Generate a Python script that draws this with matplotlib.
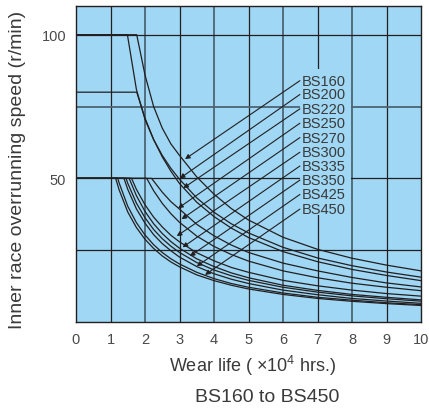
import matplotlib
matplotlib.use("Agg")
from matplotlib import pyplot
from matplotlib.patches import Rectangle

pyplot.rcParams["font.family"] = ["Liberation Sans", "DejaVu Sans"]
pyplot.rcParams["mathtext.fontset"] = "custom"
pyplot.rcParams["mathtext.rm"] = "Liberation Sans"

# wear life (x10^4 hrs) / speed (r/min)
curve_x = [
    [0, 1.76, 2.0, 2.25, 2.5, 2.75, 3, 3.5, 4, 4.5, 5, 6, 7, 8, 9, 10],
    [0, 1.49, 1.75, 2.0, 2.25, 2.5, 2.75, 3, 3.5, 4, 4.5, 5, 6, 7, 8, 9, 10],
    [0, 1.76, 2.0, 2.25, 2.5, 2.75, 3, 3.5, 4, 4.5, 5, 6, 7, 8, 9, 10],
    [0, 2.19, 2.5, 2.75, 3, 3.5, 4, 4.5, 5, 6, 7, 8, 9, 10],
    [0, 2.05, 2.25, 2.5, 2.75, 3, 3.5, 4, 4.5, 5, 6, 7, 8, 9, 10],
    [0, 1.61, 1.75, 2.0, 2.25, 2.5, 2.75, 3, 3.5, 4, 4.5, 5, 6, 7, 8, 9, 10],
    [0, 1.54, 1.75, 2.0, 2.25, 2.5, 2.75, 3, 3.5, 4, 4.5, 5, 6, 7, 8, 9, 10],
    [0, 1.45, 1.5, 1.75, 2.0, 2.25, 2.5, 2.75, 3, 3.5, 4, 4.5, 5, 6, 7, 8, 9, 10],
    [0, 1.39, 1.5, 1.75, 2.0, 2.25, 2.5, 2.75, 3, 3.5, 4, 4.5, 5, 6, 7, 8, 9, 10],
    [0, 1.21, 1.25, 1.5, 1.75, 2.0, 2.25, 2.5, 2.75, 3, 3.5, 4, 4.5, 5, 6, 7, 8, 9, 10],
    [0, 1.15, 1.25, 1.5, 1.75, 2.0, 2.25, 2.5, 2.75, 3, 3.5, 4, 4.5, 5, 6, 7, 8, 9, 10],
]
curve_y = [
    [100, 100, 86, 75, 67.5, 62, 58, 50.5, 44.5, 39.5, 35.5, 29.5, 25.3, 22.2, 19.8, 17.8],
    [100, 100, 81, 70.5, 63.5, 58, 53.5, 49.7, 43.2, 38.2, 34.2, 31, 26, 22.3, 19.6, 17.4, 15.6],
    [80, 80, 71, 63.5, 57.5, 52.5, 48.2, 41.7, 36.7, 32.7, 29.4, 24.5, 21, 18.3, 16.2, 14.4],
    [50, 50, 45.2, 41.9, 39.3, 34, 30, 26.8, 24.2, 20.5, 17.8, 15.5, 13.6, 12.2],
    [50, 50, 45.7, 41.3, 37.7, 34.7, 29.9, 26.3, 23.5, 21.2, 17.8, 15.4, 13.5, 12.1, 10.9],
    [50, 50, 46.2, 40.8, 36.5, 33.1, 30.2, 27.9, 24.1, 21.3, 19.0, 17.3, 14.5, 12.6, 11.1, 9.9, 9.0],
    [50, 50, 44, 38.5, 34.2, 30.8, 28, 25.7, 22, 19.3, 17.1, 15.4, 12.8, 11, 9.6, 8.6, 7.7],
    [50, 50, 48.3, 41.4, 36.3, 32.2, 29, 26.4, 24.2, 20.7, 18.1, 16.1, 14.5, 12.1, 10.4, 9.1, 8.1, 7.25],
    [50, 50, 46.2, 39.4, 34.4, 30.4, 27.3, 24.8, 22.6, 19.3, 16.8, 14.9, 13.4, 11.1, 9.5, 8.2, 7.3, 6.5],
    [50, 50, 48.4, 40.3, 34.6, 30.3, 26.9, 24.2, 22, 20.2, 17.3, 15.1, 13.4, 12.1, 10.1, 8.6, 7.6, 6.7, 6.05],
    [50, 50, 46, 38.3, 32.9, 28.8, 25.6, 23, 20.9, 19.2, 16.4, 14.4, 12.8, 11.5, 9.6, 8.2, 7.2, 6.4, 5.75],
]

labels = ["BS160", "BS200", "BS220", "BS250", "BS270",
          "BS300", "BS335", "BS350", "BS425", "BS450"]
label_y = [84, 79.2, 74.2, 69.2, 64.2, 59.1, 54.3, 49.4, 44.4, 39.3]
tip_x = [3.16, 3.01, 3.11, 2.96, 3.06, 2.92, 3.09, 3.30, 3.50, 3.74]
tip_y = [56.7, 50.0, 46.6, 39.6, 35.8, 29.9, 26.0, 22.9, 19.4, 16.4]

bg = "#9fd7f4"
ink = "#231f20"
txt = "#4a4a4a"

fig = pyplot.figure(figsize=(4.29, 4.14), dpi=100)
ax = fig.add_axes([76 / 429, 1 - 323 / 414, 345 / 429, 316 / 414])
ax.set_facecolor(bg)
ax.set_xlim(0, 10)
ax.set_ylim(0, 110)

# grid
for gx in range(1, 10):
    if gx % 2 == 0:
        ax.axvline(gx, color="#4d6473", lw=1.3, zorder=1)
    else:
        ax.axvline(gx, color=ink, lw=0.9, zorder=1)
for gy in [25, 50, 75, 100]:
    if gy == 75:
        ax.axhline(gy, color="#4d6473", lw=1.3, zorder=1)
    else:
        ax.axhline(gy, color=ink, lw=0.9, zorder=1)

# box behind the labels
ax.add_patch(Rectangle((6.49, 37.2), 1.48, 51.0, facecolor=bg,
                       edgecolor="none", zorder=2))

for xs, ys in zip(curve_x, curve_y):
    ax.plot(xs, ys, color=ink, lw=0.9, zorder=3)

for lab, ly, tx, ty in zip(labels, label_y, tip_x, tip_y):
    ax.annotate("", xy=(tx, ty), xytext=(6.49, ly),
                arrowprops=dict(arrowstyle="-|>", color=ink, lw=0.8,
                                mutation_scale=7, shrinkA=0, shrinkB=0),
                zorder=4)
    ax.text(6.55, ly, lab, fontsize=10.5, color="#3a3a3a",
            va="center", ha="left", zorder=5)

for s in ax.spines.values():
    s.set_color(ink)
    s.set_linewidth(1.0)

ax.set_xticks(range(0, 11))
ax.set_yticks([50, 100])
ax.tick_params(length=0, labelsize=10.5, labelcolor=txt, pad=7)

fig.text(253 / 429, 1 - 366 / 414, r"Wear life ( ×10$^{4}$ hrs.)",
         fontsize=13, color="#3a3a3a", ha="center", va="center")
fig.text(267 / 429, 1 - 398 / 414, "BS160 to BS450",
         fontsize=14, color="#3a3a3a", ha="center", va="center")
fig.text(18 / 429, 1 - 170 / 414, "Inner race overrunning speed (r/min)",
         fontsize=14, color="#3a3a3a", ha="center", va="center",
         rotation=90)

fig.savefig("out.png", dpi=100)
